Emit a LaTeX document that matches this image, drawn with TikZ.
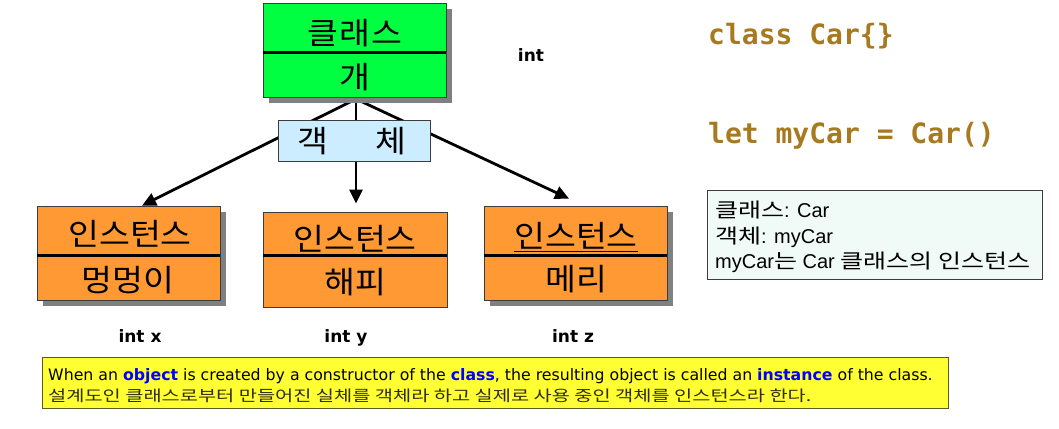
\documentclass[tikz,border=0pt]{standalone}
\usepackage{fontspec}
\setmainfont{Liberation Sans}
\newfontfamily\krA{Noto Sans CJK KR}[FakeStretch=1.1]
\newfontfamily\krB{Noto Sans CJK KR}[FakeStretch=1.25]
\newfontfamily\krC{Noto Sans CJK KR}[FakeStretch=1.3]
\newfontfamily\notefont{DejaVu Sans}
\newfontfamily\codefont{DejaVu Sans Mono Bold}
\newfontfamily\lblfont{DejaVu Sans Bold}
\usetikzlibrary{shadows,arrows.meta,backgrounds}
\definecolor{clsgreen}{RGB}{0,255,64}
\definecolor{instorange}{RGB}{255,153,51}
\definecolor{objblue}{RGB}{204,236,255}
\definecolor{infofill}{RGB}{240,250,246}
\definecolor{notefill}{RGB}{255,255,51}
\definecolor{noteedge}{RGB}{90,90,40}
\definecolor{codebrown}{RGB}{168,122,32}
\definecolor{boxedge}{RGB}{60,60,60}
\definecolor{krdark}{RGB}{45,45,10}
\tikzset{
  umlbox/.style={draw=boxedge, line width=0.8pt, minimum width=183pt, minimum height=94pt, inner sep=0pt},
  shadowed/.style={drop shadow={shadow xshift=6pt, shadow yshift=-6pt, fill=gray, opacity=1}},
  divider/.style={line width=3.5pt, black},
  bigkr/.style={font=\krA\fontsize{30.5}{32}\selectfont, inner sep=0pt},
  conn/.style={line width=2.8pt, black, -{Triangle[length=14pt,width=13pt]}},
  lbl/.style={font=\lblfont\fontsize{17}{19}\selectfont, inner sep=0pt, anchor=base},
  code/.style={font=\codefont\fontsize{28}{30}\selectfont, text=codebrown, inner sep=0pt, anchor=base west},
  infoline/.style={font=\fontsize{20}{22}\selectfont, inner sep=0pt, anchor=base west},
}
\begin{document}
\begin{tikzpicture}[x=1pt,y=-1pt]
\useasboundingbox (0,0) rectangle (1059,428);

% class box
\node[umlbox, shadowed, fill=clsgreen] (cls) at (354.5,50) {};
\draw[divider] ([yshift=-50pt]cls.north west) -- ([yshift=-50pt]cls.north east);
\node[bigkr] (clsname) at (355,33) {클\hspace{1pt}래\hspace{1pt}스};
\node[bigkr] (clsattr) at (355,77) {개};

% object box
\node[draw=boxedge, line width=0.8pt, fill=objblue, minimum width=152pt, minimum height=41pt, inner sep=0pt] (obj) at (354,140.5) {};
\node[bigkr] (objtext) at (352,141) {객\hspace{47pt}체};

% instance boxes
\node[umlbox, shadowed, fill=instorange] (inst1) at (128.5,253) {};
\draw[divider] ([yshift=-50pt]inst1.north west) -- ([yshift=-50pt]inst1.north east);
\node[bigkr] (inst1a) at (130,234) {인스턴스};
\node[bigkr] (inst1b) at (128,280) {멍멍이};

\node[umlbox, fill=instorange, minimum width=184pt, minimum height=95pt] (inst2) at (355,259.5) {};
\draw[divider] ([yshift=-44pt]inst2.north west) -- ([yshift=-44pt]inst2.north east);
\node[bigkr] (inst2a) at (355,240) {\underline{인스턴스}};
\node[bigkr] (inst2b) at (355,282) {해피};

\node[umlbox, shadowed, fill=instorange] (inst3) at (575.5,253) {};
\draw[divider] ([yshift=-50pt]inst3.north west) -- ([yshift=-50pt]inst3.north east);
\node[bigkr] (inst3a) at (576,237) {\underline{인스턴스}};
\node[bigkr] (inst3b) at (576,279) {메리};

% connectors
\coordinate (hub) at (356,99);
\begin{scope}[on background layer]
\draw[conn] (hub) -- ([xshift=13.5pt]inst1.north);
\draw[conn] (hub) -- ([xshift=1pt,yshift=8pt]inst2.north);
\draw[conn] (hub) -- ([xshift=-6.5pt,yshift=7pt]inst3.north);
\end{scope}

% labels
\node[lbl] (intlbl) at (531,61) {int};
\node[lbl] (intx) at (140,342) {int x};
\node[lbl] (inty) at (346,342) {int y};
\node[lbl] (intz) at (573,342) {int z};

% code
\node[code] (code1) at (708,45) {class Car\{\}};
\node[code] (code2) at (708,143) {let myCar = Car()};

% info box
\node[draw=boxedge, line width=0.8pt, fill=infofill, minimum width=335pt, minimum height=89pt, inner sep=0pt] (info) at (874.5,234.5) {};
\node[infoline] (info1) at (715,217) {{\krB 클래스}: Car};
\node[infoline] (info2) at (715,243) {{\krB 객체}: myCar};
\node[infoline] (info3) at (715,268) {myCar{\krB 는} Car {\krB 클래스의 인스턴스}};

% note box
\node[draw=noteedge, line width=0.8pt, fill=notefill, minimum width=906pt, minimum height=51pt, inner sep=0pt] (note) at (495,382.5) {};
\node[font=\notefont\fontsize{15.75}{18}\selectfont, inner sep=0pt, anchor=base west] (note1) at (48,380) {When an \textbf{\color{blue}object} is created by a constructor of the \textbf{\color{blue}class}, the resulting object is called an \textbf{\color{blue}instance} of the class.};
\node[font=\krC\fontsize{15.2}{18}\selectfont, text=krdark, inner sep=0pt, anchor=base west] (note2) at (48,401) {설계도인 클래스로부터 만들어진 실체를 객체라 하고 실제로 사용 중인 객체를 인스턴스라 한다.};
\end{tikzpicture}
\end{document}
